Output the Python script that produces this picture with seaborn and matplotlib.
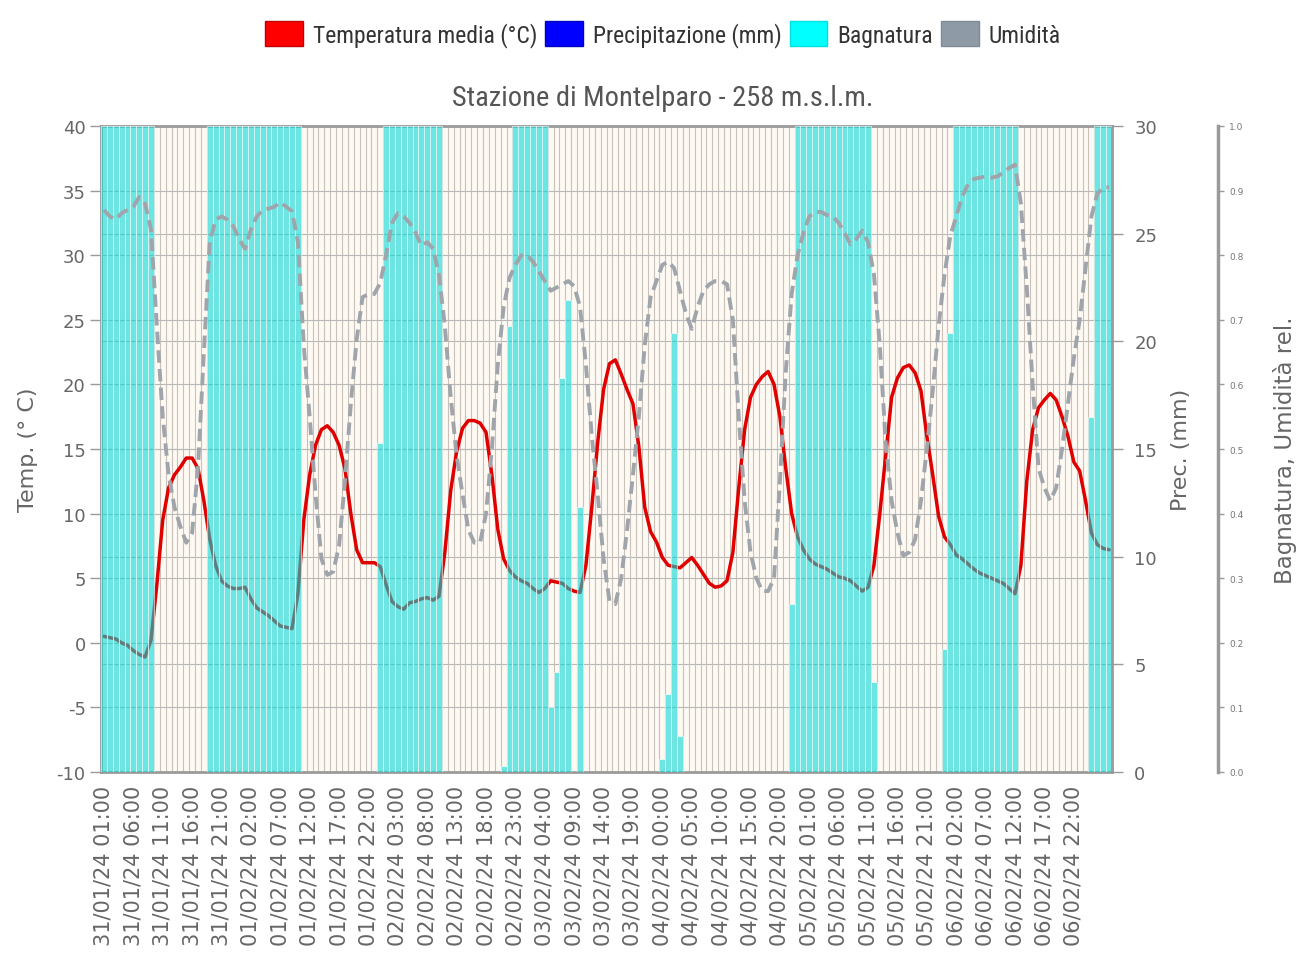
import matplotlib
matplotlib.use("Agg")
import matplotlib.pyplot as plt
import matplotlib.ticker as mticker
from matplotlib.patches import Patch
from matplotlib import font_manager
import numpy as np
import pandas as pd
import seaborn as sns

# dati orari dal 31/01/24 01:00
temperatura = [
    0.5, 0.4, 0.3, 0.0, -0.2, -0.6, -0.9, -1.1, 0.2, 4.5,
    9.5, 12.0, 13.0, 13.6, 14.3, 14.3, 13.5, 11.0, 8.0, 6.0,
    4.8, 4.4, 4.2, 4.2, 4.3, 3.4, 2.7, 2.4, 2.1, 1.7,
    1.3, 1.2, 1.1, 3.8, 9.5, 13.0, 15.3, 16.5, 16.8, 16.3,
    15.3, 13.5, 10.0, 7.2, 6.2, 6.2, 6.2, 5.9, 4.5, 3.2,
    2.8, 2.6, 3.1, 3.2, 3.4, 3.5, 3.3, 3.6, 7.0, 11.8,
    14.8, 16.6, 17.2, 17.2, 17.0, 16.3, 13.0, 8.8, 6.5, 5.6,
    5.1, 4.8, 4.6, 4.2, 3.9, 4.2, 4.8, 4.7, 4.6, 4.2,
    4.0, 3.9, 6.0, 10.5, 15.5, 19.6, 21.6, 21.9, 20.8, 19.6,
    18.5, 15.2, 10.5, 8.6, 7.8, 6.6, 6.0, 5.9, 5.8, 6.2,
    6.6, 6.0, 5.3, 4.6, 4.3, 4.4, 4.8, 7.0, 12.0, 16.5,
    19.0, 20.0, 20.6, 21.0, 20.0, 17.5, 13.5, 10.0, 8.2, 7.2,
    6.5, 6.1, 5.9, 5.7, 5.4, 5.1, 5.0, 4.8, 4.4, 4.0,
    4.3, 6.0, 10.0, 14.5, 19.0, 20.5, 21.3, 21.5, 20.9, 19.5,
    16.0, 13.0, 9.8, 8.2, 7.6, 6.8, 6.5, 6.1, 5.7, 5.4,
    5.2, 5.0, 4.8, 4.6, 4.2, 3.8, 6.0, 12.5, 16.5, 18.2,
    18.8, 19.3, 18.8, 17.5, 16.0, 14.0, 13.3, 11.0, 8.5, 7.6,
    7.3, 7.2,
]
umidita = [
    0.87, 0.86, 0.855, 0.865, 0.87, 0.875, 0.89, 0.88, 0.84, 0.69,
    0.55, 0.46, 0.41, 0.38, 0.355, 0.37, 0.47, 0.65, 0.82, 0.855,
    0.86, 0.855, 0.845, 0.825, 0.81, 0.84, 0.86, 0.87, 0.872, 0.875,
    0.882, 0.875, 0.868, 0.82, 0.66, 0.55, 0.43, 0.33, 0.305, 0.31,
    0.35, 0.45, 0.57, 0.67, 0.735, 0.74, 0.74, 0.757, 0.80, 0.85,
    0.865, 0.86, 0.85, 0.835, 0.815, 0.82, 0.81, 0.77, 0.69, 0.58,
    0.49, 0.43, 0.375, 0.355, 0.355, 0.40, 0.50, 0.63, 0.72, 0.765,
    0.785, 0.80, 0.80, 0.79, 0.775, 0.76, 0.745, 0.75, 0.755, 0.76,
    0.752, 0.72, 0.63, 0.52, 0.43, 0.33, 0.265, 0.26, 0.30, 0.375,
    0.46, 0.55, 0.66, 0.735, 0.76, 0.785, 0.79, 0.78, 0.745, 0.71,
    0.686, 0.72, 0.745, 0.755, 0.76, 0.76, 0.755, 0.70, 0.55, 0.42,
    0.34, 0.30, 0.28, 0.28, 0.30, 0.45, 0.62, 0.74, 0.80, 0.835,
    0.86, 0.867, 0.867, 0.862, 0.86, 0.85, 0.835, 0.817, 0.825, 0.838,
    0.82, 0.77, 0.66, 0.51, 0.42, 0.37, 0.335, 0.34, 0.36, 0.42,
    0.50, 0.59, 0.69, 0.77, 0.83, 0.86, 0.89, 0.91, 0.918, 0.92,
    0.922, 0.92, 0.922, 0.928, 0.935, 0.94, 0.88, 0.75, 0.60, 0.47,
    0.44, 0.42, 0.44, 0.50, 0.57, 0.64, 0.70, 0.78, 0.86, 0.895,
    0.905, 0.905,
]
bagnatura = [
    1, 1, 1, 1, 1, 1, 1, 1, 1, 0,
    0, 0, 0, 0, 0, 0, 0, 0, 1, 1,
    1, 1, 1, 1, 1, 1, 1, 1, 1, 1,
    1, 1, 1, 1, 0, 0, 0, 0, 0, 0,
    0, 0, 0, 0, 0, 0, 0, 0.51, 1, 1,
    1, 1, 1, 1, 1, 1, 1, 1, 0, 0,
    0, 0, 0, 0, 0, 0, 0, 0, 0.01, 0.69,
    1, 1, 1, 1, 1, 1, 0.10, 0.155, 0.61, 0.73,
    0, 0.41, 0, 0, 0, 0, 0, 0, 0, 0,
    0, 0, 0, 0, 0, 0.02, 0.12, 0.68, 0.055, 0,
    0, 0, 0, 0, 0, 0, 0, 0, 0, 0,
    0, 0, 0, 0, 0, 0, 0, 0.26, 1, 1,
    1, 1, 1, 1, 1, 1, 1, 1, 1, 1,
    1, 0.14, 0, 0, 0, 0, 0, 0, 0, 0,
    0, 0, 0, 0.19, 0.68, 1, 1, 1, 1, 1,
    1, 1, 1, 1, 1, 1, 0, 0, 0, 0,
    0, 0, 0, 0, 0, 0, 0, 0, 0.55, 1,
    1, 1,
]
precipitazione = [0.0] * len(temperatura)  # nessuna pioggia nel periodo

ore = pd.date_range("2024-01-31 01:00", periods=len(temperatura), freq="h")
etichette = list(ore.strftime("%d/%m/%y %H:%M"))
n = len(temperatura)

df = pd.DataFrame({
    "ora": np.arange(n),
    "temp": temperatura,
    "umid": umidita,
    "bagn": bagnatura,
    "prec": precipitazione,
})

sns.set_style("white")
plt.rcParams["font.family"] = ["DejaVu Sans"]
plt.rcParams["axes.unicode_minus"] = False

# font stretto per titolo e legenda
nomi = {f.name for f in font_manager.fontManager.ttflist}
if "Roboto Condensed" in nomi:
    stretto = dict(family="Roboto Condensed")
elif "Liberation Sans Narrow" in nomi:
    stretto = dict(family="Liberation Sans Narrow")
else:
    stretto = dict(family="DejaVu Sans", stretch="condensed")

GRIGIO_TXT = "#666666"
GRIGIO_ASSE = "#9a9a9a"
CREMA = "#fdfaf3"

fig = plt.figure(figsize=(12.96, 9.79), dpi=100)
ax = fig.add_axes([101 / 1296, 1 - 773 / 979, 1011 / 1296, 646 / 979])
ax2 = ax.twinx()
ax3 = ax.twinx()

# ordine: sfondo (prec) < temperatura < bagnatura/umidita
ax2.set_zorder(0)
ax.set_zorder(1)
ax3.set_zorder(2)
ax.patch.set_visible(False)
ax2.patch.set_visible(True)
ax2.patch.set_facecolor(CREMA)

# precipitazione (tutta a zero)
sns.barplot(data=df, x="ora", y="prec", ax=ax2, color="#0000ff", saturation=1,
            width=1, linewidth=0, native_scale=True, errorbar=None)

# temperatura
sns.lineplot(data=df, x="ora", y="temp", ax=ax, color="#e00000", linewidth=2.5)

# bagnatura + umidita
sns.barplot(data=df, x="ora", y="bagn", ax=ax3, color="#00d8d8", saturation=1,
            alpha=0.58, width=1, edgecolor="white", linewidth=0.8,
            native_scale=True, errorbar=None)
sns.lineplot(data=df, x="ora", y="umid", ax=ax3, color="#a0a5ab", linewidth=2.8,
             linestyle=(0, (3.2, 1.6)))

ax.set_xlim(-0.5, n - 0.5)
ax.set_ylim(-10, 40)
ax2.set_ylim(0, 30)
ax3.set_ylim(0, 1)

# griglie
ax2.set_yticks(range(0, 31, 5))
ax2.yaxis.grid(True, color="#b8b8b8", linewidth=0.8)
ax2.xaxis.grid(False)
ax.set_yticks(range(-10, 41, 5))
ax.yaxis.grid(True, color="#b8b8b8", linewidth=0.8)
pos_etich = list(range(0, 166, 5))
ax.set_xticks(pos_etich)
ax.set_xticklabels([etichette[i] for i in pos_etich], rotation=90, fontsize=15,
                   color=GRIGIO_TXT)
ax.xaxis.set_minor_locator(mticker.FixedLocator(np.arange(-0.5, n, 1)))
ax.xaxis.grid(True, which="minor", color="#c9c1ba", linewidth=0.8)
ax.xaxis.grid(False, which="major")
ax.set_axisbelow(True)

ax3.set_yticks(np.arange(0, 1.01, 0.1))
ax3.yaxis.set_major_formatter(mticker.FormatStrFormatter("%.1f"))
ax3.grid(False)

# tick
ax.tick_params(axis="y", direction="out", length=8, width=1, color=GRIGIO_ASSE,
               labelcolor=GRIGIO_TXT, labelsize=13, pad=3)
ax.tick_params(axis="x", which="both", direction="out", length=4, width=0.8,
               color=GRIGIO_ASSE, pad=5)
ax2.tick_params(axis="y", direction="out", length=8, width=1, color=GRIGIO_ASSE,
                labelcolor=GRIGIO_TXT, labelsize=13, pad=8)
ax3.tick_params(axis="y", direction="out", length=4, width=1, color=GRIGIO_ASSE,
                labelcolor="#777777", labelsize=6.5, pad=4)

# spine
for s in ["left", "top", "bottom"]:
    ax.spines[s].set_color(GRIGIO_ASSE)
    ax.spines[s].set_linewidth(2)
ax.spines["right"].set_visible(False)
for s in ["left", "top", "bottom"]:
    ax2.spines[s].set_visible(False)
ax2.spines["right"].set_color(GRIGIO_ASSE)
ax2.spines["right"].set_linewidth(2)
for s in ["left", "top", "bottom"]:
    ax3.spines[s].set_visible(False)
ax3.spines["right"].set_position(("axes", 1 + 106 / 1011))
ax3.spines["right"].set_color(GRIGIO_ASSE)
ax3.spines["right"].set_linewidth(2.5)

# etichette assi
ax.set_xlabel("")
ax3.set_xlabel("")
ax2.set_xlabel("")
ax.set_ylabel("Temp. (° C)", fontsize=16, color=GRIGIO_TXT)
ax.yaxis.set_label_coords(-0.062, 0.5)
ax2.set_ylabel("Prec. (mm)", fontsize=16, color=GRIGIO_TXT)
ax2.yaxis.set_label_coords(1.058, 0.5)
ax3.set_ylabel("Bagnatura, Umidità rel.", fontsize=16.5, color=GRIGIO_TXT)
ax3.yaxis.set_label_coords(1.159, 0.5)

fig.text(663 / 1296, 1 - 98 / 979, "Stazione di Montelparo - 258 m.s.l.m.",
         ha="center", va="center", fontsize=20.5, color="#555555", **stretto)

maniglie = [
    Patch(facecolor="#ff0000", edgecolor="#c00000", label="Temperatura media (°C)"),
    Patch(facecolor="#0000ff", edgecolor="#0000c0", label="Precipitazione (mm)"),
    Patch(facecolor="#00ffff", edgecolor="#00e0e0", label="Bagnatura"),
    Patch(facecolor="#8e9aa6", edgecolor="#7e8a96", label="Umidità"),
]
leg = fig.legend(handles=maniglie, loc="center", bbox_to_anchor=(663 / 1296, 1 - 35 / 979),
                 ncol=4, frameon=False, fontsize=17, handlelength=1.6, handleheight=1.27,
                 handletextpad=0.42, columnspacing=0.34)
for t in leg.get_texts():
    t.set_color("#333333")
    t.set_fontfamily(stretto["family"])
    if "stretch" in stretto:
        t.set_fontstretch(stretto["stretch"])

fig.savefig("out.png", dpi=100)
